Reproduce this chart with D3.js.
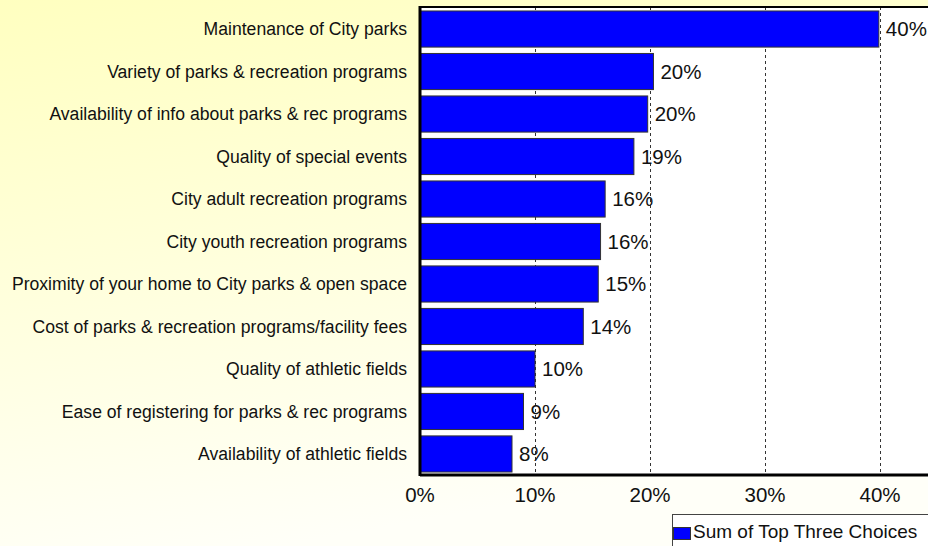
<!DOCTYPE html>
<html>
<head>
<meta charset="utf-8">
<script src="https://cdn.jsdelivr.net/npm/d3@7"></script>
<style>
  body { margin: 0; }
  svg { display: block; font-family: "Liberation Sans", Arial, sans-serif; }
</style>
</head>
<body>
<svg id="chart" width="928" height="546"></svg>
<script>
// survey categories, top to bottom
const categories = [
  "Maintenance of City parks",
  "Variety of parks & recreation programs",
  "Availability of info about parks & rec programs",
  "Quality of special events",
  "City adult recreation programs",
  "City youth recreation programs",
  "Proximity of your home to City parks & open space",
  "Cost of parks & recreation programs/facility fees",
  "Quality of athletic fields",
  "Ease of registering for parks & rec programs",
  "Availability of athletic fields"
];
// sum of top three choices (%)
const values = [39.9, 20.3, 19.8, 18.6, 16.1, 15.7, 15.5, 14.2, 10.0, 9.0, 8.0];
const labels = ["40%", "20%", "20%", "19%", "16%", "16%", "15%", "14%", "10%", "9%", "8%"];
const ticks = [0, 10, 20, 30, 40];
const seriesName = "Sum of Top Three Choices";

const width = 928, height = 546;
const margin = {top: 7, right: -4, bottom: 71, left: 420};

const svg = d3.select("#chart");

// background gradient
const defs = svg.append("defs");
const grad = defs.append("linearGradient")
    .attr("id", "bg").attr("x1", 0).attr("y1", 0).attr("x2", 0.3).attr("y2", 1);
grad.append("stop").attr("offset", "0%").attr("stop-color", "#ffffc0");
grad.append("stop").attr("offset", "100%").attr("stop-color", "#fffff8");
svg.append("rect").attr("width", width).attr("height", height).attr("fill", "url(#bg)");

const x = d3.scaleLinear([0, 40], [margin.left, 880]);
const y = d3.scaleBand(categories, [margin.top + 1, height - margin.bottom])
    .paddingInner(0.15).paddingOuter(0.07);

// plot area
svg.append("rect")
    .attr("x", margin.left).attr("y", margin.top)
    .attr("width", width - margin.left + 5)
    .attr("height", height - margin.bottom - margin.top)
    .attr("fill", "white");

// grid
svg.append("g")
  .selectAll("line")
  .data(ticks.slice(1))
  .join("line")
    .attr("x1", d => x(d) + 0.5)
    .attr("x2", d => x(d) + 0.5)
    .attr("y1", margin.top)
    .attr("y2", height - margin.bottom)
    .attr("stroke", "#333")
    .attr("stroke-dasharray", "3,3");

// bars
svg.append("g")
  .selectAll("rect")
  .data(values)
  .join("rect")
    .attr("x", x(0))
    .attr("y", (d, i) => y(categories[i]))
    .attr("width", d => x(d) - x(0))
    .attr("height", y.bandwidth())
    .attr("fill", "#0000ff")
    .attr("stroke", "#333")
    .attr("stroke-width", 1);

// value labels
svg.append("g")
  .selectAll("text")
  .data(values)
  .join("text")
    .attr("x", d => x(d) + 7)
    .attr("y", (d, i) => y(categories[i]) + y.bandwidth() / 2)
    .attr("dy", "0.35em")
    .attr("font-size", 20.5)
    .attr("fill", "#111")
    .text((d, i) => labels[i]);

// category labels
svg.append("g")
  .selectAll("text")
  .data(categories)
  .join("text")
    .attr("x", 407)
    .attr("y", d => y(d) + y.bandwidth() / 2)
    .attr("dy", "0.35em")
    .attr("text-anchor", "end")
    .attr("font-size", 17.6)
    .attr("fill", "#111")
    .text(d => d);

// frame: top, left, bottom
svg.append("line")
    .attr("x1", margin.left).attr("x2", width)
    .attr("y1", margin.top).attr("y2", margin.top)
    .attr("stroke", "black").attr("stroke-width", 2);
svg.append("line")
    .attr("x1", margin.left).attr("x2", margin.left)
    .attr("y1", margin.top - 1).attr("y2", height - margin.bottom + 1)
    .attr("stroke", "black").attr("stroke-width", 3);
svg.append("line")
    .attr("x1", margin.left).attr("x2", width)
    .attr("y1", height - margin.bottom).attr("y2", height - margin.bottom)
    .attr("stroke", "black").attr("stroke-width", 3);

// x axis tick labels
svg.append("g")
  .selectAll("text")
  .data(ticks)
  .join("text")
    .attr("x", d => x(d))
    .attr("y", 502)
    .attr("text-anchor", "middle")
    .attr("font-size", 20.5)
    .attr("fill", "#111")
    .text(d => d + "%");

// legend
const lg = svg.append("g").attr("transform", "translate(672,514)");
lg.append("rect")
    .attr("x", 0.5).attr("y", 0.5)
    .attr("width", 270).attr("height", 50)
    .attr("fill", "white").attr("stroke", "#444");
lg.append("rect")
    .attr("x", 1.5).attr("y", 13.5)
    .attr("width", 17).attr("height", 12)
    .attr("fill", "#0000ff").attr("stroke", "#333");
lg.append("text")
    .attr("x", 21).attr("y", 17)
    .attr("dy", "0.35em")
    .attr("font-size", 19)
    .attr("fill", "#111")
    .text(seriesName);
</script>
</body>
</html>
